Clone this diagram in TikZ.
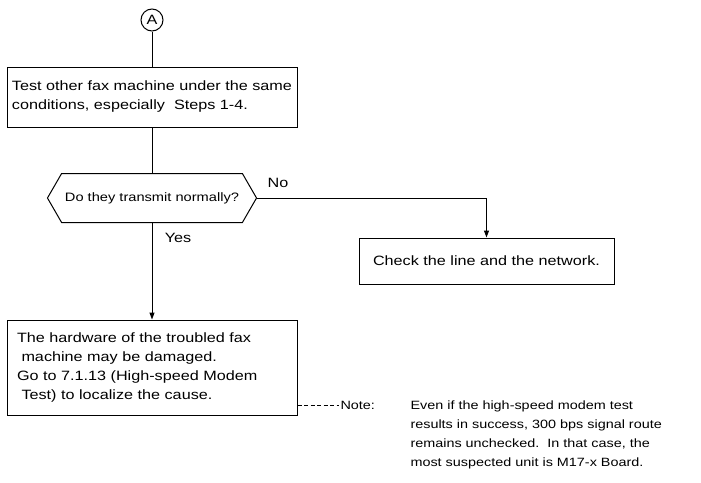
\documentclass[tikz,border=0pt]{standalone}
\usepackage{fontspec}
\setmainfont{Liberation Sans}[FakeStretch=1.2]
\usetikzlibrary{shapes.symbols,arrows.meta}

\begin{document}
\begin{tikzpicture}[x=1pt,y=-1pt,line width=1pt,
  every node/.style={font=\fontsize{13.5}{19}\selectfont},
  box/.style={draw,rectangle,inner sep=2pt},
  ask/.style={draw,signal,signal to=west and east,signal pointer angle=120,
    minimum width=208,minimum height=49,font=\fontsize{12.2}{15}\selectfont},
  conn/.style={draw,circle,minimum size=22,inner sep=0pt},
  arr/.style={-{Triangle[length=7pt,width=5pt]}},
  small/.style={font=\fontsize{12}{19}\selectfont}]
\useasboundingbox (0,0) rectangle (701,482);
\node[conn] (A) at (152,20) {A};
\node[box,minimum width=290,minimum height=60,align=left] (test) at (152,97)
  {Test other fax machine under the same\\conditions, especially\ \ Steps 1-4.};
\node[ask] (ask) at (152,198) {Do they transmit normally?};
\node[box,minimum width=255,minimum height=46] (line) at (486.5,261) {Check the line and the network.};
\node[box,minimum width=290,minimum height=95,text width=270,align=left] (hw) at (152,367.5)
  {The hardware of the troubled fax\\\ machine may be damaged.\\Go to 7.1.13 (High-speed Modem\\\ Test) to localize the cause.};
\node (no) at (278,183) {No};
\node (yes) at (178,238) {Yes};
\node[small,anchor=west,inner sep=1pt] (note) at (339,405) {Note:};
\node[small,anchor=north west,align=left,inner sep=0pt] (notetext) at (410,400.5)
  {Even if the high-speed modem test\\results in success, 300 bps signal route\\
   remains unchecked.\ \ In that case, the\\most suspected unit is M17-x Board.};
\draw (A) -- (test);
\draw (test.south) -- (ask.north);
\draw[arr] (ask.east) -| (line.north);
\draw[arr] (ask.south) -- (hw.north);
\draw[dash pattern=on 4pt off 2.5pt] (hw.east |- note.west) -- (note.west);
\end{tikzpicture}
\end{document}
